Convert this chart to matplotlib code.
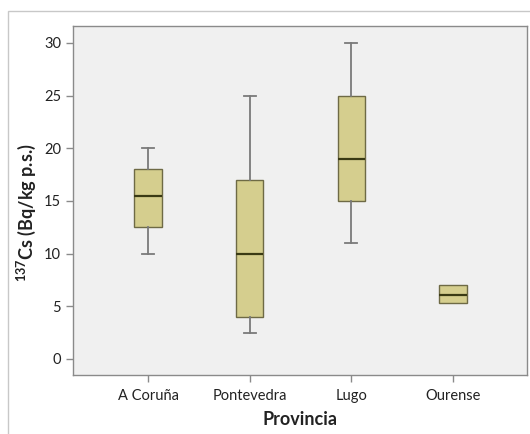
import matplotlib
matplotlib.use("Agg")
import matplotlib.pyplot as plt
from matplotlib.patches import Rectangle

categories = ["A Coruña", "Pontevedra", "Lugo", "Ourense"]
whisker_low = [10, 2.5, 11, 5.3]
q1 = [12.5, 4, 15, 5.3]
median = [15.5, 10, 19, 6.1]
q3 = [18, 17, 25, 7]
whisker_high = [20, 25, 30, 7]
yticks = [0, 5, 10, 15, 20, 25, 30]

plt.rcParams['font.family'] = ['Lato', 'DejaVu Sans']
plt.rcParams['mathtext.fontset'] = 'custom'
plt.rcParams['mathtext.rm'] = 'Lato:bold'
plt.rcParams['mathtext.default'] = 'rm'

fig = plt.figure(figsize=(5.3, 4.34), dpi=100)
fig.patch.set_facecolor('white')
fig.add_artist(Rectangle((8/530, -0.1), 1.2, 1 - 11/434 + 0.1, transform=fig.transFigure,
                         fill=False, edgecolor='#c8c8c8', linewidth=1))

ax = fig.add_axes([73/530, 1 - 375/434, (527 - 73)/530, (375 - 26)/434])
ax.set_facecolor('#f0f0f0')

stats = []
for i, c in enumerate(categories):
    stats.append(dict(label=c, whislo=whisker_low[i], q1=q1[i], med=median[i],
                      q3=q3[i], whishi=whisker_high[i], fliers=[]))

positions = list(range(1, len(categories) + 1))
caps = [0.12 if whisker_low[i] < q1[i] else 0.0 for i in range(len(categories))]
ax.bxp(stats, positions=positions, widths=0.27, patch_artist=True, showfliers=False,
       boxprops=dict(facecolor='#d5ce8e', edgecolor='#6e6a45', linewidth=1),
       medianprops=dict(color='#3a3a14', linewidth=1.6),
       whiskerprops=dict(color='#7a7a7a', linewidth=1.3),
       capprops=dict(color='#7a7a7a', linewidth=1.3),
       capwidths=caps)

ax.set_xlim(0.26, 4.73)
ax.set_ylim(-1.52, 31.6)
ax.set_yticks(yticks)
ax.set_yticklabels([str(t) for t in yticks])
ax.set_xticks(positions)
ax.set_xticklabels(categories)

for s in ax.spines.values():
    s.set_color('#8a8a8a')
    s.set_linewidth(1)
ax.tick_params(axis='both', colors='#8a8a8a', length=5, width=1, labelcolor='#222222',
               labelsize=10.5)
ax.tick_params(axis='x', pad=5)

ax.set_ylabel('$^{137}$Cs (Bq/kg p.s.)', fontsize=13, fontweight='bold', color='#222222')
ax.yaxis.set_label_coords(-0.077, 0.465)
ax.set_xlabel('Provincia', fontsize=13, fontweight='bold', color='#222222', labelpad=6)

fig.savefig('out.png', dpi=100)
